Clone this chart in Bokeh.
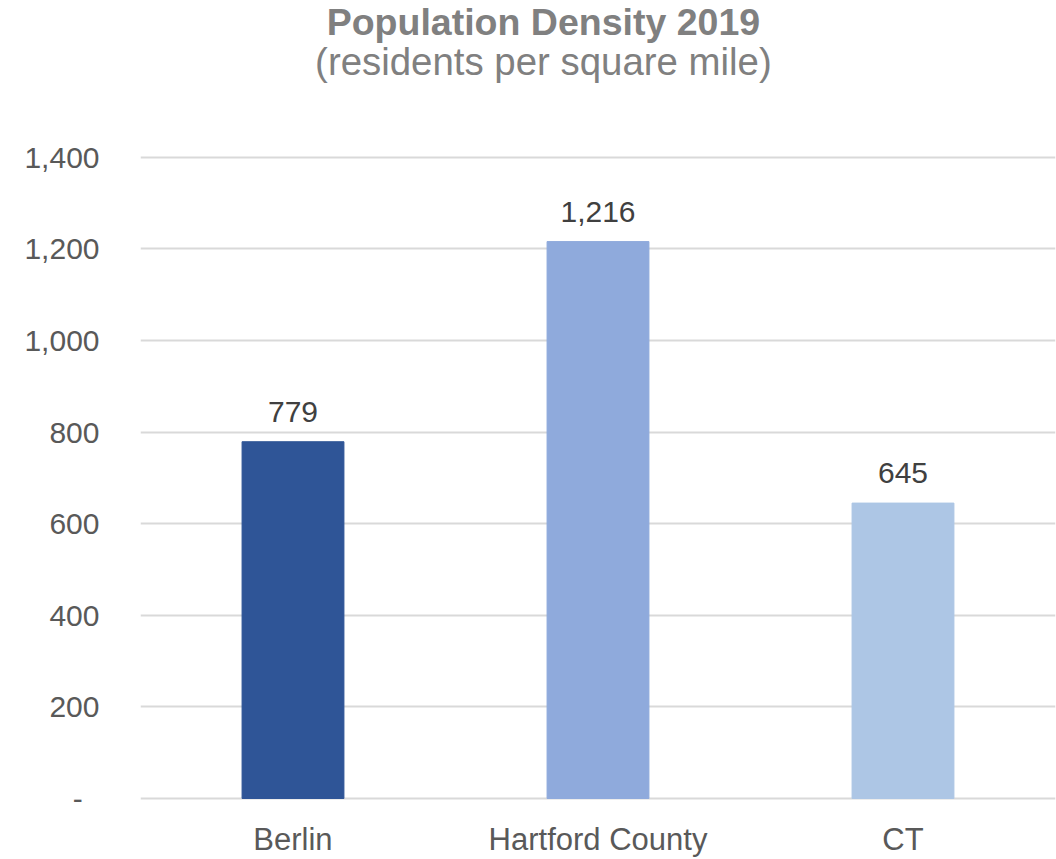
from bokeh.plotting import figure
from bokeh.models import ColumnDataSource, FixedTicker, Label, Range1d
from bokeh.core.properties import value
from bokeh.embed import file_html
from bokeh.resources import INLINE

categories = ["Berlin", "Hartford County", "CT"]
density = [779, 1216, 645]
bar_colors = ["#2F5597", "#8FAADC", "#ADC6E5"]
tick_values = [0, 200, 400, 600, 800, 1000, 1200, 1400]
tick_labels = ["-\u00a0\u00a0", "200", "400", "600", "800", "1,000", "1,200", "1,400"]
title_text = "Population Density 2019"
subtitle_text = "(residents per square mile)"

FONT = "Liberation Sans"

src = ColumnDataSource(dict(
    cat=categories,
    val=density,
    color=bar_colors,
    lab=["{:,}".format(v) for v in density],
))

# frame spans from the top of the canvas down to the zero line
PX = 642 / 1400.0
y_start = -2 / PX
y_end = 1400 + 157 / PX

p = figure(
    x_range=categories,
    y_range=Range1d(y_start, y_end),
    width=1056, height=859,
    output_backend="svg", toolbar_location=None,
    min_border_left=140, min_border_right=1,
    min_border_top=0, min_border_bottom=58,
)
p.outline_line_color = None
p.background_fill_color = "white"
p.border_fill_color = "white"

p.vbar(x="cat", top="val", width=0.334, color="color", source=src)
p.text(x="cat", y="val", text="lab", source=src, text_align="center",
       text_baseline="alphabetic", y_offset=-30,
       text_font=value(FONT), text_font_size="30px", text_color="#404040")

# axes
p.yaxis.ticker = FixedTicker(ticks=tick_values)
p.yaxis.major_label_overrides = {v: l for v, l in zip(tick_values, tick_labels)}
p.yaxis.axis_line_color = None
p.yaxis.major_tick_line_color = None
p.yaxis.minor_tick_line_color = None
p.yaxis.major_label_standoff = 35
p.yaxis.major_label_text_font = FONT
p.yaxis.major_label_text_font_size = "30px"
p.yaxis.major_label_text_color = "#595959"

p.xaxis.axis_line_color = None
p.xaxis.major_tick_line_color = None
p.xaxis.minor_tick_line_color = None
p.xaxis.major_label_standoff = 15
p.xaxis.major_label_text_font = FONT
p.xaxis.major_label_text_font_size = "31px"
p.xaxis.major_label_text_color = "#595959"

p.xgrid.grid_line_color = None
p.ygrid.ticker = FixedTicker(ticks=tick_values)
p.ygrid.grid_line_color = "#D9D9D9"
p.ygrid.grid_line_width = 2
p.ygrid.level = "underlay"

p.add_layout(Label(x=1.321, y=y_end - 22 / PX, text=title_text, text_align="center",
                   text_baseline="alphabetic", text_font=FONT, text_font_size="37.5px",
                   text_font_style="bold", text_color="#808080"))
p.add_layout(Label(x=1.321, y=y_end - 61 / PX, text=subtitle_text, text_align="center",
                   text_baseline="alphabetic", text_font=FONT, text_font_size="38.4px",
                   text_color="#808080"))

open("out.html", "w").write(file_html(p, INLINE))
